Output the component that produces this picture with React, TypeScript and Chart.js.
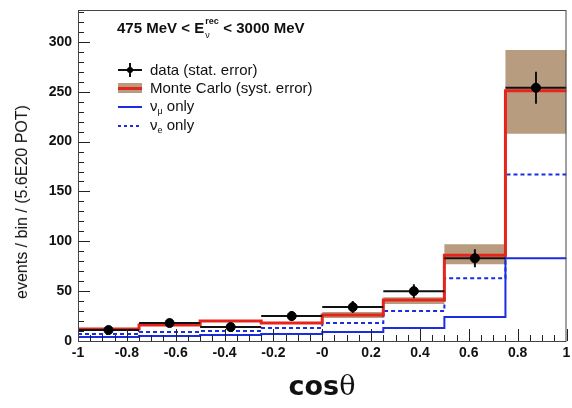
import React, { useEffect, useRef } from "react";
import { Chart, registerables } from "chart.js";

Chart.register(...registerables);

// ---- data ----
const binEdges = [-1, -0.75, -0.5, -0.25, 0, 0.25, 0.5, 0.75, 1];
const dataValues = [11, 18, 14, 25, 34, 50, 83, 254];
const dataErrors = [3, 4, 4, 5, 6, 7, 9, 16];
const mcValues = [12, 16, 20, 18, 26, 41, 86, 251];
const mcSystLow = [11, 15, 19, 17, 23, 37, 77, 208];
const mcSystHigh = [13, 17, 21, 19, 29, 44, 97, 292];
const numuValues = [4, 5, 6, 7, 9, 13, 24, 83];
const nueValues = [7, 9, 10, 13, 18, 30, 63, 167];

const yTickValues = [0, 50, 100, 150, 200, 250, 300];
const xTickValues = [-1, -0.8, -0.6, -0.4, -0.2, 0, 0.2, 0.4, 0.6, 0.8, 1];
const xTickLabels = ["-1", "-0.8", "-0.6", "-0.4", "-0.2", "-0", "0.2", "0.4", "0.6", "0.8", "1"];
const yMinorStep = 10;
const xMinorStep = 0.05;
const yMax = 332;

const RED = "#e5241c";
const BLUE = "#1a2ee0";
const BAND = "#b89c80";
const FONT = "'Liberation Sans', Arial, Helvetica, sans-serif";

function stepPoints(values: number[]) {
  return binEdges.map((x, i) => ({ x, y: values[Math.min(i, values.length - 1)] }));
}

function dataHorizontal() {
  const pts: any[] = [];
  dataValues.forEach((v, i) => {
    pts.push({ x: binEdges[i], y: v }, { x: binEdges[i + 1], y: v }, { x: binEdges[i + 1], y: null });
  });
  return pts;
}

function dataVertical() {
  const pts: any[] = [];
  dataValues.forEach((v, i) => {
    const c = (binEdges[i] + binEdges[i + 1]) / 2;
    pts.push({ x: c, y: v - dataErrors[i] }, { x: c, y: v + dataErrors[i] }, { x: c, y: null });
  });
  return pts;
}

function dataDots() {
  return dataValues.map((v, i) => ({ x: (binEdges[i] + binEdges[i + 1]) / 2, y: v }));
}

const frameTicks = {
  id: "frameTicks",
  afterDatasetsDraw(chart: any) {
    const { ctx, chartArea: a, scales } = chart;
    const x = scales.x;
    const y = scales.y;
    ctx.save();
    ctx.strokeStyle = "#222";
    ctx.lineWidth = 1;
    for (let k = 0; k * yMinorStep <= yMax; k++) {
      const v = k * yMinorStep;
      const py = Math.round(y.getPixelForValue(v)) + 0.5;
      const len = v % 50 === 0 ? 12 : 6;
      ctx.beginPath();
      ctx.moveTo(a.left, py);
      ctx.lineTo(a.left + len, py);
      ctx.stroke();
    }
    const nMinor = Math.round((binEdges[binEdges.length - 1] - binEdges[0]) / xMinorStep);
    for (let k = 0; k <= nMinor; k++) {
      const v = binEdges[0] + k * xMinorStep;
      const px = Math.round(x.getPixelForValue(v)) + 0.5;
      const len = k % 4 === 0 ? 12 : 6;
      ctx.beginPath();
      ctx.moveTo(px, a.bottom);
      ctx.lineTo(px, a.bottom - len);
      ctx.stroke();
    }
    ctx.strokeStyle = "#444";
    ctx.strokeRect(a.left + 0.5, a.top + 0.5, a.right - a.left - 1, a.bottom - a.top);
    ctx.restore();
  },
};

function ChartCanvas() {
  const ref = useRef<HTMLCanvasElement | null>(null);
  useEffect(() => {
    if (!ref.current) return;
    const chart = new Chart(ref.current, {
      type: "line",
      data: {
        datasets: [
          {
            label: "dots",
            data: dataDots(),
            showLine: false,
            pointRadius: 4.5,
            pointBackgroundColor: "#000",
            pointBorderColor: "#000",
            borderColor: "#000",
          },
          {
            label: "dataV",
            data: dataVertical(),
            borderColor: "#111",
            borderWidth: 2,
            pointRadius: 0,
            spanGaps: false,
          },
          {
            label: "dataH",
            data: dataHorizontal(),
            borderColor: "#111",
            borderWidth: 2,
            pointRadius: 0,
            spanGaps: false,
          },
          {
            label: "mc",
            data: stepPoints(mcValues),
            borderColor: RED,
            borderWidth: 3,
            pointRadius: 0,
            stepped: true,
          },
          {
            label: "numu",
            data: stepPoints(numuValues),
            borderColor: BLUE,
            borderWidth: 2,
            pointRadius: 0,
            stepped: true,
          },
          {
            label: "nue",
            data: stepPoints(nueValues),
            borderColor: BLUE,
            borderWidth: 2,
            borderDash: [4, 3],
            pointRadius: 0,
            stepped: true,
          },
          {
            label: "bandHi",
            data: stepPoints(mcSystHigh),
            borderWidth: 0,
            borderColor: "rgba(0,0,0,0)",
            backgroundColor: BAND,
            pointRadius: 0,
            stepped: true,
            fill: "+1",
          },
          {
            label: "bandLo",
            data: stepPoints(mcSystLow),
            borderWidth: 0,
            borderColor: "rgba(0,0,0,0)",
            pointRadius: 0,
            stepped: true,
          },
        ] as any,
      },
      options: {
        animation: false,
        responsive: false,
        parsing: false as any,
        layout: { padding: { left: 0, right: 5, top: 10, bottom: 0 } },
        plugins: { legend: { display: false }, tooltip: { enabled: false } },
        scales: {
          x: {
            type: "linear",
            min: -1,
            max: 1,
            grid: { display: false, drawTicks: false },
            border: { display: false },
            afterBuildTicks: (s: any) => {
              s.ticks = xTickValues.map((v) => ({ value: v }));
            },
            afterFit: (s: any) => {
              s.height = 67;
              s.paddingLeft = 0;
              s.paddingRight = 0;
            },
            ticks: {
              padding: 4,
              maxRotation: 0,
              autoSkip: false,
              color: "#111",
              font: { family: FONT, size: 14, weight: "bold" },
              callback: (_v: any, i: number) => xTickLabels[i],
            },
          },
          y: {
            type: "linear",
            min: 0,
            max: yMax,
            grid: { display: false, drawTicks: false },
            border: { display: false },
            afterBuildTicks: (s: any) => {
              s.ticks = yTickValues.map((v) => ({ value: v }));
            },
            afterFit: (s: any) => {
              s.width = 78;
              s.paddingTop = 0;
              s.paddingBottom = 0;
            },
            ticks: {
              padding: 6,
              color: "#111",
              font: { family: FONT, size: 14, weight: "bold" },
              callback: (v: any) => String(v),
            },
          },
        },
      },
      plugins: [frameTicks],
    });
    return () => chart.destroy();
  }, []);
  return <canvas ref={ref} width={572} height={408} style={{ position: "absolute", left: 0, top: 0 }} />;
}

const textBase: React.CSSProperties = {
  position: "absolute",
  fontFamily: FONT,
  color: "#111",
  whiteSpace: "nowrap",
  lineHeight: 1,
};

const LEG = 15;

export default function App() {
  return (
    <div style={{ position: "fixed", left: 0, top: 0, width: 572, height: 408, background: "#fff", overflow: "hidden" }}>
      <ChartCanvas />
      {/* header */}
      <div style={{ ...textBase, left: 117, top: 20, fontSize: 15, fontWeight: "bold" }}>
        475 MeV &lt; E
        <span style={{ display: "inline-block", position: "relative", width: 15, height: 10 }}>
          <span style={{ position: "absolute", left: 1, top: -6, fontSize: 9 }}>rec</span>
          <span style={{ position: "absolute", left: 1, top: 8, fontSize: 9, fontWeight: "normal" }}>ν</span>
        </span>
        {" "}&lt; 3000 MeV
      </div>
      {/* legend */}
      <div style={{ position: "absolute", left: 118, top: 69, width: 24, height: 2, background: "#111" }} />
      <div style={{ position: "absolute", left: 129, top: 63, width: 2, height: 14, background: "#111" }} />
      <div style={{ position: "absolute", left: 127, top: 67, width: 6, height: 6, borderRadius: 3, background: "#000" }} />
      <div style={{ ...textBase, left: 150, top: 62, fontSize: LEG }}>data (stat. error)</div>

      <div style={{ position: "absolute", left: 118, top: 83, width: 24, height: 10, background: BAND }} />
      <div style={{ position: "absolute", left: 118, top: 87, width: 24, height: 3, background: RED }} />
      <div style={{ ...textBase, left: 150, top: 80, fontSize: LEG }}>Monte Carlo (syst. error)</div>

      <div style={{ position: "absolute", left: 118, top: 106, width: 24, height: 2, background: BLUE }} />
      <div style={{ ...textBase, left: 150, top: 98, fontSize: LEG }}>
        ν<sub style={{ fontSize: 9, verticalAlign: "-3px" }}>μ</sub> only
      </div>

      <div
        style={{
          position: "absolute",
          left: 118,
          top: 125,
          width: 24,
          height: 2,
          background: `repeating-linear-gradient(to right, ${BLUE} 0 3px, transparent 3px 6px)`,
        }}
      />
      <div style={{ ...textBase, left: 150, top: 117, fontSize: LEG }}>
        ν<sub style={{ fontSize: 9, verticalAlign: "-3px" }}>e</sub> only
      </div>

      {/* y title */}
      <div
        style={{
          ...textBase,
          left: 22,
          top: 202,
          fontSize: 16,
          transform: "translate(-50%, -50%) rotate(-90deg)",
        }}
      >
        events / bin / (5.6E20 POT)
      </div>

      {/* x title */}
      <div style={{ ...textBase, left: 322, top: 385, transform: "translate(-50%, -50%)", fontSize: 27, fontWeight: "bold", fontFamily: "'DejaVu Sans', sans-serif" }}>
        cos<span style={{ fontFamily: "'DejaVu Serif', serif", fontWeight: "normal" }}>θ</span>
      </div>
    </div>
  );
}
